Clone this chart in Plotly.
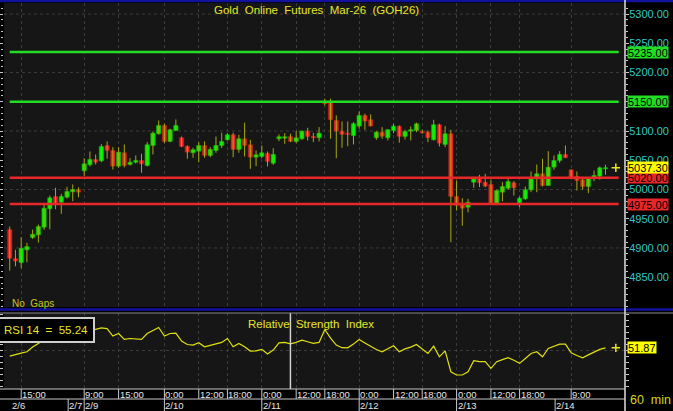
import plotly.graph_objects as go

# ---------------- data ----------------
opens = [4931.5, 4882.0, 4875.0, 4896.8, 4917.8, 4922.4, 4935.5, 4967.0, 4988.0, 4978.3,
         4986.8, 4996.0, 5000.0, 5032.0, 5042.3, 5051.4, 5049.0, 5075.3, 5066.8, 5039.9,
         5062.8, 5042.8, 5046.7, 5049.6, 5041.0, 5075.3, 5095.4, 5109.6, 5082.2, 5101.0,
         5088.5, 5074.0, 5062.8, 5065.6, 5075.3, 5058.2, 5066.8, 5075.3, 5085.0, 5093.6,
         5068.5, 5086.8, 5076.5, 5055.3, 5056.5, 5062.0, 5045.0, 5086.8, 5087.8, 5090.7,
         5082.2, 5086.8, 5099.8, 5090.7, 5088.5, 5149.5, 5148.4, 5118.0, 5099.8, 5096.4,
         5092.4, 5108.4, 5126.7, 5119.3, 5088.5, 5098.1, 5088.5, 5101.0, 5108.4, 5090.7,
         5099.8, 5101.0, 5099.3, 5098.1, 5085.0, 5110.8, 5077.0, 5095.4, 4988.0, 4976.6,
         4969.7, 5012.5, 5021.0, 5012.5, 5008.6, 4976.6, 4995.4, 5002.2, 5011.5, 4977.2,
         4984.0, 4999.5, 5018.3, 5026.9, 5006.8, 5038.2, 5049.6, 5059.9, 5033.7, 5022.3,
         5016.6, 5005.1, 5021.0, 5022.8, 5035.4]
highs = [4936.7, 4896.8, 4918.3, 4908.7, 4931.5, 4940.0, 4973.8, 4989.7, 5002.9, 4992.6,
         5004.6, 5008.6, 5003.4, 5053.6, 5065.0, 5060.0, 5077.6, 5082.2, 5072.4, 5072.4,
         5077.0, 5053.6, 5058.2, 5061.0, 5081.0, 5099.3, 5118.0, 5112.5, 5104.0, 5119.8,
         5090.7, 5075.3, 5071.4, 5081.0, 5082.2, 5072.4, 5090.7, 5097.0, 5096.4, 5097.0,
         5093.6, 5114.2, 5085.0, 5066.8, 5075.3, 5065.0, 5070.7, 5094.2, 5096.4, 5095.4,
         5099.8, 5101.0, 5105.6, 5097.0, 5106.6, 5155.3, 5155.3, 5126.7, 5116.4, 5116.4,
         5115.2, 5133.5, 5129.6, 5128.4, 5099.8, 5106.6, 5103.2, 5112.5, 5109.6, 5102.2,
         5107.9, 5114.2, 5102.2, 5101.0, 5119.3, 5112.5, 5108.4, 5102.2, 5015.4, 4985.1,
         4984.0, 5021.0, 5025.2, 5026.9, 5016.6, 4999.5, 5012.5, 5019.3, 5014.2, 4988.0,
         5005.1, 5030.8, 5042.8, 5052.6, 5065.6, 5058.2, 5065.6, 5075.3, 5034.5, 5030.8,
         5021.0, 5021.0, 5032.5, 5039.4, 5042.3]
lows = [4861.3, 4868.7, 4865.3, 4875.6, 4915.6, 4909.3, 4931.0, 4932.0, 4966.3, 4958.4,
        4984.6, 4980.0, 4986.8, 5022.8, 5039.4, 5042.8, 5046.7, 5052.6, 5034.2, 5037.1,
        5037.7, 5041.0, 5044.5, 5028.6, 5039.4, 5059.9, 5093.6, 5079.3, 5081.0, 5099.8,
        5072.4, 5052.6, 5054.3, 5046.7, 5054.3, 5055.3, 5062.8, 5070.7, 5083.9, 5055.3,
        5062.8, 5056.5, 5035.4, 5039.9, 5053.6, 5039.4, 5042.3, 5082.7, 5078.2, 5081.0,
        5079.3, 5085.0, 5083.9, 5081.0, 5082.2, 5143.8, 5086.8, 5053.6, 5071.4, 5074.0,
        5077.0, 5104.0, 5102.0, 5108.4, 5085.0, 5086.8, 5083.9, 5096.4, 5080.0, 5085.6,
        5083.9, 5098.1, 5095.4, 5081.0, 5083.9, 5073.6, 5072.4, 4909.8, 4964.0, 4938.0,
        4961.0, 5003.0, 5004.0, 5004.0, 4975.5, 4975.5, 4979.5, 4999.5, 4989.7, 4969.7,
        4982.4, 4995.4, 4995.4, 5005.1, 5006.8, 5033.7, 5045.7, 5054.3, 5020.0, 4998.3,
        4999.5, 4993.7, 5014.2, 5016.6, 5025.2]
closes = [4882.4, 4877.5, 4899.5, 4902.4, 4923.5, 4936.7, 4968.0, 4985.8, 4973.8, 4988.0,
          4996.6, 5000.0, 4995.4, 5044.0, 5051.4, 5046.7, 5073.6, 5066.8, 5039.9, 5063.9,
          5041.0, 5046.7, 5049.6, 5044.0, 5076.5, 5096.4, 5109.6, 5082.2, 5102.2, 5109.6,
          5073.6, 5063.9, 5068.0, 5075.3, 5058.2, 5068.5, 5075.3, 5082.2, 5093.6, 5068.5,
          5086.8, 5075.3, 5055.3, 5059.4, 5062.8, 5048.0, 5060.0, 5090.2, 5090.2, 5082.2,
          5088.5, 5099.8, 5090.7, 5088.5, 5096.4, 5147.0, 5119.3, 5099.8, 5094.2, 5094.2,
          5112.5, 5126.7, 5117.0, 5108.4, 5098.1, 5091.2, 5102.2, 5108.4, 5090.7, 5099.3,
          5102.2, 5112.5, 5097.0, 5088.5, 5110.8, 5079.3, 5095.4, 4988.0, 4972.6, 4968.0,
          4978.3, 5018.3, 5011.5, 5005.7, 4976.6, 4998.3, 5005.1, 5013.7, 5002.9, 4985.1,
          4999.5, 5018.3, 5026.9, 5006.8, 5038.2, 5049.6, 5059.9, 5054.3, 5021.0, 5015.4,
          5005.1, 5019.3, 5024.0, 5037.1, 5037.3]
rsi = [45.0, 46.5, 47.5, 48.6, 52.5, 55.5, 59.0, 62.0, 63.0, 61.0,
       62.0, 63.0, 63.0, 66.0, 66.1, 67.5, 68.5, 68.0, 61.7, 63.9,
       58.9, 59.7, 59.2, 58.9, 63.9, 66.5, 68.9, 61.7, 63.9, 64.2,
       57.5, 54.7, 54.2, 56.1, 52.8, 54.0, 55.5, 56.4, 59.7, 52.8,
       55.6, 52.8, 49.2, 49.4, 50.6, 46.7, 50.0, 56.1, 56.4, 55.24,
       56.5, 58.3, 57.0, 55.6, 56.4, 67.2, 60.0, 54.2, 52.0, 51.9,
       55.0, 58.9, 56.0, 53.3, 50.5, 48.6, 51.0, 53.6, 48.6, 51.0,
       52.5, 54.7, 51.0, 47.2, 53.3, 44.4, 49.4, 31.9, 29.2, 29.2,
       31.9, 41.1, 40.3, 40.3, 34.7, 40.3, 42.0, 43.6, 41.5, 38.9,
       43.0, 47.2, 48.6, 44.4, 51.4, 53.5, 55.0, 55.0, 47.8, 45.5,
       43.6, 46.0, 48.0, 50.6, 51.87]

time_tick_idx = [2, 13, 19, 27, 33, 38, 44, 50, 55, 61, 67, 72, 78, 84, 89, 98]
time_tick_lbl = ["15:00", "9:00", "15:00", "0:00", "12:00", "18:00", "0:00", "12:00",
                 "18:00", "0:00", "12:00", "18:00", "0:00", "12:00", "18:00", "9:00"]
date_sep_idx = [10.2, 13, 27, 44, 61, 78, 95.2]
date_sep_lbl = ["2/7", "2/9", "2/10", "2/11", "2/12", "2/13", "2/14"]
first_date_lbl = "2/6"

price_ticks = [4850, 4900, 4950, 5000, 5050, 5100, 5150, 5200, 5250, 5300]
grid_prices = [4900, 5000, 5100, 5200, 5300]
level_prices = [5235.0, 5150.0, 5020.0, 4975.0]
level_colors = ["#22dd22", "#22dd22", "#e82828", "#e82828"]
last_price = 5037.30
last_rsi = 51.87
crosshair_idx = 49
crosshair_rsi = 55.24

title_text = "Gold  Online  Futures  Mar-26  (GOH26)"

# ---------------- figure ----------------
idx = list(range(len(closes)))
W, H = 673, 411
ML, MR, MT, MB = 4, 48, 3, 22
plot_h = H - MT - MB
plot_w = W - ML - MR

def py(px):   # pixel row -> paper y
    return (H - MB - px) / plot_h

def px_(p):   # pixel col -> paper x
    return (p - ML) / plot_w

FONT = "Liberation Sans, Arial, sans-serif"
YEL = "#e6e62a"
WICK = "#a8a814"
GREEN = "#00ee00"
RED = "#f02424"

fig = go.Figure()

wx, wy = [], []
for i, h, l in zip(idx, highs, lows):
    wx += [i, i, None]
    wy += [l, h, None]
fig.add_trace(go.Scatter(x=wx, y=wy, mode="lines", line=dict(color=WICK, width=1),
                         hoverinfo="skip", showlegend=False, xaxis="x", yaxis="y"))

base = [min(o, c) for o, c in zip(opens, closes)]
height = [max(abs(c - o), 1.3) for o, c in zip(opens, closes)]
cols = [GREEN if c >= o else RED for o, c in zip(opens, closes)]
lcols = ["#00b400" if c >= o else "#b81a1a" for o, c in zip(opens, closes)]
fig.add_trace(go.Bar(x=idx, y=height, base=base, width=0.76,
                     marker=dict(color=cols, line=dict(color=lcols, width=0.6)),
                     hoverinfo="skip", showlegend=False, xaxis="x", yaxis="y"))

fig.add_trace(go.Scatter(x=[idx[-1] + 1.8], y=[last_price], mode="markers",
                         marker=dict(symbol="cross-thin", size=6, line=dict(color=YEL, width=1.5)),
                         hoverinfo="skip", showlegend=False, xaxis="x", yaxis="y"))

fig.add_trace(go.Scatter(x=idx, y=rsi, mode="lines", line=dict(color="#e0e010", width=1.2),
                         hoverinfo="skip", showlegend=False, xaxis="x", yaxis="y2"))
fig.add_trace(go.Scatter(x=[idx[-1] + 1.8], y=[last_rsi], mode="markers",
                         marker=dict(symbol="cross-thin", size=6, line=dict(color=YEL, width=1.5)),
                         hoverinfo="skip", showlegend=False, xaxis="x", yaxis="y2"))

shapes = []
for g in grid_prices:
    shapes.append(dict(type="line", xref="x domain", yref="y", x0=0, x1=1, y0=g, y1=g,
                       line=dict(color="#3c3c3c", width=1, dash="dot"), layer="below"))
for p, c in zip(level_prices, level_colors):
    shapes.append(dict(type="line", xref="x", yref="y", x0=idx[0], x1=idx[-1] + 2.3, y0=p, y1=p,
                       line=dict(color=c, width=2.5), layer="above"))
shapes.append(dict(type="line", xref="x", yref="y2 domain", x0=crosshair_idx, x1=crosshair_idx,
                   y0=0, y1=1, line=dict(color="#d0d0d0", width=1.5)))
shapes += [
    dict(type="line", xref="paper", yref="paper", x0=px_(0), x1=px_(W), y0=py(1), y1=py(1),
         line=dict(color="#12129c", width=2.5)),
    dict(type="line", xref="paper", yref="paper", x0=px_(0), x1=px_(W), y0=py(309.5), y1=py(309.5),
         line=dict(color="#12129c", width=2.5)),
    dict(type="line", xref="paper", yref="paper", x0=px_(0), x1=px_(W), y0=py(313), y1=py(313),
         line=dict(color="#8c8c8c", width=1)),
    dict(type="line", xref="paper", yref="paper", x0=px_(0), x1=1, y0=py(389), y1=py(389),
         line=dict(color="#c8c8c8", width=1)),
    dict(type="line", xref="paper", yref="paper", x0=px_(0), x1=1, y0=py(399), y1=py(399),
         line=dict(color="#c8c8c8", width=1)),
    dict(type="line", xref="paper", yref="paper", x0=1, x1=1, y0=py(H), y1=py(0),
         line=dict(color="#d4d4d4", width=1.6)),
]
for t in time_tick_idx:
    shapes.append(dict(type="line", xref="x", yref="paper", x0=t, x1=t, y0=py(389), y1=py(399),
                       line=dict(color="#c8c8c8", width=1)))
for d in date_sep_idx:
    shapes.append(dict(type="line", xref="x", yref="paper", x0=d, x1=d, y0=py(399), y1=py(H),
                       line=dict(color="#c8c8c8", width=1)))

ann = []
def A(**kw):
    kw.setdefault("showarrow", False)
    kw.setdefault("xanchor", "center")
    kw.setdefault("yanchor", "middle")
    ann.append(kw)

A(text=title_text, xref="paper", yref="paper", x=px_(316), y=py(10),
  font=dict(family=FONT, size=11.5, color=YEL))
A(text="No  Gaps", xref="paper", yref="paper", x=px_(10), y=py(303), xanchor="left",
  font=dict(family=FONT, size=10, color="#c8c820"))
A(text="Relative  Strength  Index", xref="paper", yref="paper", x=px_(311), y=py(324),
  font=dict(family=FONT, size=11.5, color=YEL))
A(text=f"RSI 14  =  {crosshair_rsi:.2f}", xref="paper", yref="paper",
  x=px_(46), y=py(329.5), bgcolor="#000000", bordercolor="#cfcfcf", borderwidth=2, borderpad=5,
  font=dict(family=FONT, size=11.5, color=YEL))
for p, c in zip(level_prices, level_colors):
    A(text=f"{p:.2f}", xref="paper", yref="y", x=1, y=p, xanchor="left", xshift=2,
      bgcolor=c, borderpad=0, height=11, font=dict(family=FONT, size=11, color="#000000"))
A(text=f"{last_price:.2f}", xref="paper", yref="y", x=1, y=last_price, xanchor="left",
  xshift=2, bgcolor="#ffff00", borderpad=0, height=11,
  font=dict(family=FONT, size=11, color="#000000"))
A(text=f"{last_rsi:.2f}", xref="paper", yref="y2", x=1, y=last_rsi, xanchor="left",
  xshift=2, bgcolor="#ffff00", borderpad=0, height=11,
  font=dict(family=FONT, size=11, color="#000000"))
for t, l in zip(time_tick_idx, time_tick_lbl):
    A(text=l, xref="x", yref="paper", x=t, y=py(394.5), xanchor="left", xshift=-1,
      font=dict(family=FONT, size=9.5, color="#e6e6e6"))
A(text=first_date_lbl, xref="x", yref="paper", x=idx[0], y=py(405.5), xanchor="left",
  font=dict(family=FONT, size=9.5, color="#e6e6e6"))
for d, l in zip(date_sep_idx, date_sep_lbl):
    A(text=l, xref="x", yref="paper", x=d, y=py(405.5), xanchor="left", xshift=-1,
      font=dict(family=FONT, size=9.5, color="#e6e6e6"))
A(text="60  min", xref="paper", yref="paper", x=px_(650), y=py(400),
  font=dict(family=FONT, size=12.5, color="#d4d420"))

fig.update_layout(
    width=W, height=H, margin=dict(l=ML, r=MR, t=MT, b=MB, autoexpand=False),
    paper_bgcolor="#000000", plot_bgcolor="#161616",
    showlegend=False, barmode="overlay",
    xaxis=dict(range=[-1.0, 107.4], tickmode="array", tickvals=time_tick_idx,
               showticklabels=False, ticks="", showgrid=True, gridcolor="#3c3c3c",
               griddash="dot", gridwidth=1, zeroline=False, showline=False, anchor="y2",
               automargin=False),
    yaxis=dict(domain=[py(307), 1], range=[4799, 5319], side="right", anchor="x",
               tickmode="array", tickvals=price_ticks, ticktext=[f"{p:.2f}" for p in price_ticks],
               tickfont=dict(family=FONT, size=11, color="#2ec8c8"),
               showgrid=False, zeroline=False, automargin=False,
               showline=True, linecolor="rgba(0,0,0,0)", linewidth=1,
               ticks="outside", ticklen=3, tickcolor="#c8c8c8", tickwidth=1,
               ticklabelstandoff=-2,
               minor=dict(dtick=10, tick0=4800, ticks="outside", ticklen=2, tickcolor="#c8c8c8",
                          showgrid=False),
               mirror="allticks"),
    yaxis2=dict(domain=[0, py(313)], range=[17.5, 81], side="right", anchor="x",
                tickmode="array", tickvals=[50], showticklabels=False, automargin=False,
                showgrid=True, gridcolor="#3c3c3c", griddash="dot", zeroline=False,
                showline=True, linecolor="rgba(0,0,0,0)", linewidth=1,
                ticks="outside", ticklen=3, tickcolor="#c8c8c8",
                minor=dict(dtick=5, tick0=0, ticks="outside", ticklen=3, tickcolor="#c8c8c8",
                           showgrid=False),
                mirror="allticks"),
    shapes=shapes, annotations=ann,
)

fig.write_html("out.html", config={"displayModeBar": False},
               post_script="document.body.style.margin='0px';document.body.style.background='#000';")
